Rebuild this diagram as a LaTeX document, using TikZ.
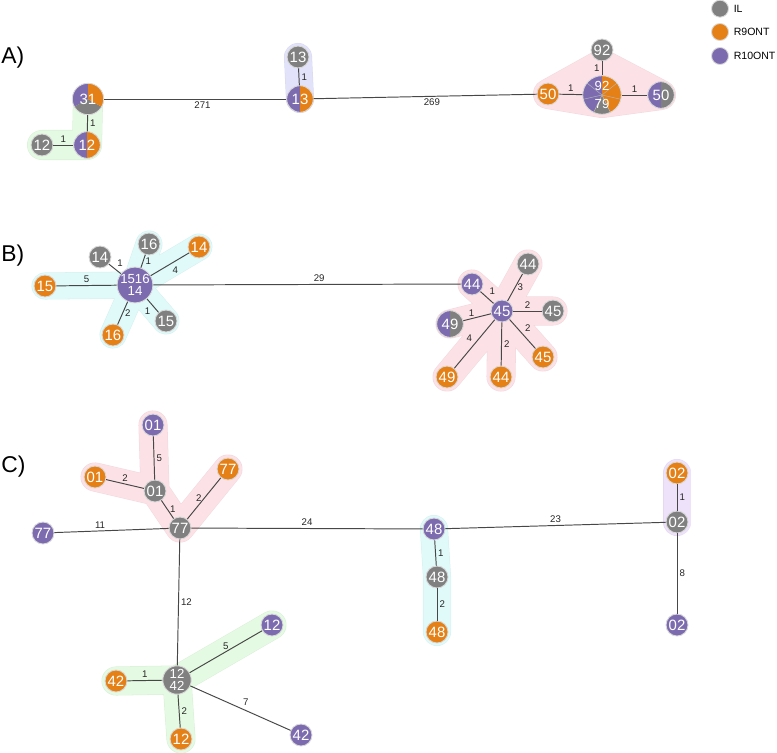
\documentclass[tikz,border=0pt]{standalone}
\usepackage{fontspec}
\setmainfont{Liberation Sans}
\usetikzlibrary{positioning,backgrounds}

\definecolor{ilgray}{RGB}{128,128,128}
\definecolor{rnineorange}{RGB}{228,128,22}
\definecolor{rtenpurple}{RGB}{124,108,175}
\definecolor{hullpink}{RGB}{252,226,230}
\definecolor{hullgreen}{RGB}{228,250,226}
\definecolor{hullblue}{RGB}{226,226,250}
\definecolor{hullcyan}{RGB}{224,250,250}
\definecolor{hulllilac}{RGB}{238,226,250}

% one share of a mixed node
\newcommand{\slice}[5]{\fill[#5] (#1) -- ++(#3:#2) arc[start angle=#3, end angle=#4, radius=#2] -- cycle;}

\begin{document}
\begin{tikzpicture}[
        x=0.02cm, y=0.02cm,
        isolate/.style={circle, draw=white!85!black, line width=0.5pt, inner sep=0pt,
            minimum size=0.44cm, text=white, font=\fontsize{8.5}{8}\selectfont},
        il/.style={isolate, fill=ilgray},
        rnine/.style={isolate, fill=rnineorange},
        rten/.style={isolate, fill=rtenpurple},
        pair/.style={minimum size=0.532cm},
        stack/.style={align=center, font=\fontsize{7.5}{6.5}\selectfont},
        link/.style={draw=black!72, line width=0.55pt},
        dist/.style={font=\fontsize{5.5}{6}\selectfont, text=black!85, inner sep=1.2pt},
        hull/.style={draw=#1!96!black, double=#1, line width=0.3pt, line cap=round, line join=round},
        panel/.style={anchor=west, inner sep=0pt, font=\fontsize{13}{14}\selectfont},
        key/.style={isolate, minimum size=0.34cm},
        keytext/.style={inner sep=0pt, font=\fontsize{6}{7}\selectfont},
        ]
        \useasboundingbox (0,0) rectangle (777,-753);

        % Legend
        \node[key, fill=ilgray] (keyil) at (720,-8.7) {};
        \node[key, fill=rnineorange] (keyrnine) at (720,-32) {};
        \node[key, fill=rtenpurple] (keyrten) at (720,-56) {};
        \node[keytext, right=0.09cm of keyil] {IL};
        \node[keytext, right=0.09cm of keyrnine] {R9ONT};
        \node[keytext, right=0.09cm of keyrten] {R10ONT};

        % Panel labels
        \node[panel] (lbla) at (1,-58) {A)};
        \node[panel] (lblb) at (1,-256) {B)};
        \node[panel] (lblc) at (1,-467) {C)};

        % A) mixed nodes
        \coordinate (p31) at (88,-99);
        \coordinate (p12) at (87,-145);
        \coordinate (p13) at (300,-99);
        \coordinate (p9279) at (602,-95);
        \coordinate (p50) at (661,-95);
        \slice{p31}{15.7}{90}{210}{rtenpurple}
        \slice{p31}{15.7}{210}{330}{ilgray}
        \slice{p31}{15.7}{-30}{90}{rnineorange}
        \slice{p12}{13.3}{90}{270}{rtenpurple}
        \slice{p12}{13.3}{-90}{90}{rnineorange}
        \slice{p13}{13.3}{90}{270}{rtenpurple}
        \slice{p13}{13.3}{-90}{90}{rnineorange}
        \slice{p9279}{19.3}{90}{244.29}{rtenpurple}
        \slice{p9279}{19.3}{244.29}{295.71}{ilgray}
        \slice{p9279}{19.3}{-64.29}{90}{rnineorange}
        \foreach \a in {38.57,-12.86,-64.29,-115.71,-167.14,141.43}
            \draw[black!28, line width=0.25pt] (p9279) -- ++(\a:19.3);
        \slice{p50}{13.3}{90}{270}{rtenpurple}
        \slice{p50}{13.3}{-90}{90}{ilgray}

        % A) nodes
        \node[isolate, minimum size=0.628cm] (a31) at (p31) {31};
        \node[isolate, pair] (a12m) at (p12) {12};
        \node[il] (a12) at (42,-145) {12};
        \node[il] (a13) at (298,-57) {13};
        \node[isolate, pair] (a13m) at (p13) {13};
        \node[rnine] (a50) at (548,-94) {50};
        \node[il] (a92) at (602,-50) {92};
        \node[isolate, stack, minimum size=0.772cm, font=\fontsize{7.5}{10.2}\selectfont] (a9279) at (p9279) {92\\79};
        \node[isolate, pair] (a50m) at (p50) {50};

        % A) links
        \draw[link] (a31) -- node[dist, right] {1} (a12m);
        \draw[link] (a12) -- node[dist, above] {1} (a12m);
        \draw[link] (a31) -- node[dist, below, pos=0.54] {271} (a13m);
        \draw[link] (a13) -- node[dist, right] {1} (a13m);
        \draw[link] (a13m) -- node[dist, below, pos=0.53] {269} (a50);
        \draw[link] (a50) -- node[dist, above] {1} (a9279);
        \draw[link] (a92) -- node[dist, left] {1} (a9279);
        \draw[link] (a9279) -- node[dist, above] {1} (a50m);

        % B) nodes
        \coordinate (p49) at (450,-324);
        \slice{p49}{13.3}{90}{270}{rtenpurple}
        \slice{p49}{13.3}{-90}{90}{ilgray}
        \node[rten, stack, minimum size=0.612cm] (b1516) at (135,-285) {1516\\14};
        \node[il] (b14il) at (100,-257) {14};
        \node[il] (b16il) at (149,-244) {16};
        \node[rnine] (b14r9) at (199,-247) {14};
        \node[rnine] (b15r9) at (45,-286) {15};
        \node[rnine] (b16r9) at (113,-335) {16};
        \node[il] (b15il) at (166,-321) {15};
        \node[rten] (b44r10) at (472,-284) {44};
        \node[il] (b44il) at (528,-264) {44};
        \node[rten] (b45r10) at (502,-311) {45};
        \node[il] (b45il) at (553,-311) {45};
        \node[isolate, pair] (b49m) at (p49) {49};
        \node[rnine] (b49r9) at (447,-377) {49};
        \node[rnine] (b44r9) at (501,-377) {44};
        \node[rnine] (b45r9) at (543,-357) {45};

        % B) links
        \draw[link] (b1516) -- node[dist, above, pos=0.54] {29} (b44r10);
        \draw[link] (b1516) -- node[dist, above right] {1} (b14il);
        \draw[link] (b1516) -- node[dist, right] {1} (b16il);
        \draw[link] (b1516) -- node[dist, below right] {4} (b14r9);
        \draw[link] (b1516) -- node[dist, above] {5} (b15r9);
        \draw[link] (b1516) -- node[dist, right] {2} (b16r9);
        \draw[link] (b1516) -- node[dist, below left] {1} (b15il);
        \draw[link] (b44r10) -- node[dist, above right] {1} (b45r10);
        \draw[link] (b44il) -- node[dist, right] {3} (b45r10);
        \draw[link] (b45r10) -- node[dist, above] {2} (b45il);
        \draw[link] (b49m) -- node[dist, above, pos=0.3] {1} (b45r10);
        \draw[link] (b49r9) -- node[dist, above left] {4} (b45r10);
        \draw[link] (b44r9) -- node[dist, right] {2} (b45r10);
        \draw[link] (b45r10) -- node[dist, above right] {2} (b45r9);

        % C) nodes
        \node[rten] (c01r10) at (153,-425) {01};
        \node[rnine] (c01r9) at (95,-477) {01};
        \node[il] (c01il) at (155,-491) {01};
        \node[rnine] (c77r9) at (228,-469) {77};
        \node[il] (c77il) at (180,-528) {77};
        \node[rten] (c77r10) at (43,-533) {77};
        \node[rten] (c48r10) at (434,-529) {48};
        \node[il] (c48il) at (437,-577) {48};
        \node[rnine] (c48r9) at (437,-632) {48};
        \node[il] (c02il) at (677,-522) {02};
        \node[rnine] (c02r9) at (677,-473) {02};
        \node[rten] (c02r10) at (677,-625) {02};
        \node[il, stack, minimum size=0.568cm] (c1242) at (177,-680) {12\\42};
        \node[rnine] (c42r9) at (116,-681) {42};
        \node[rnine] (c12r9) at (181,-739) {12};
        \node[rten] (c12r10) at (272,-625) {12};
        \node[rten] (c42r10) at (301,-735) {42};

        % C) links
        \draw[link] (c01r10) -- node[dist, right] {5} (c01il);
        \draw[link] (c01r9) -- node[dist, above] {2} (c01il);
        \draw[link] (c01il) -- node[dist, right] {1} (c77il);
        \draw[link] (c77r9) -- node[dist, left] {2} (c77il);
        \draw[link] (c77r10) -- node[dist, above, pos=0.4] {11} (c77il);
        \draw[link] (c77il) -- node[dist, above] {24} (c48r10);
        \draw[link] (c48r10) -- node[dist, right] {1} (c48il);
        \draw[link] (c48il) -- node[dist, right] {2} (c48r9);
        \draw[link] (c48r10) -- node[dist, above] {23} (c02il);
        \draw[link] (c02r9) -- node[dist, right] {1} (c02il);
        \draw[link] (c02il) -- node[dist, right] {8} (c02r10);
        \draw[link] (c77il) -- node[dist, right] {12} (c1242);
        \draw[link] (c42r9) -- node[dist, above] {1} (c1242);
        \draw[link] (c1242) -- node[dist, right] {2} (c12r9);
        \draw[link] (c1242) -- node[dist, above] {5} (c12r10);
        \draw[link] (c1242) -- node[dist, above right] {7} (c42r10);

        % Hulls
        \begin{scope}[on background layer]
            \draw[hull=hullgreen, double distance=0.58cm] (a12.center) -- (a12m.center) -- (a31.center);
            \draw[hull=hullblue, double distance=0.54cm] (a13.center) -- (a13m.center);
            \filldraw[hull=hullpink, fill=hullpink, double distance=0.58cm]
                (a50.center) -- (602,-64) -- (a50m.center) -- (602,-103) -- cycle;
            \draw[hull=hullcyan, double distance=0.52cm]
                (b1516.center) -- (b15r9.center) (b1516.center) -- (b14r9.center)
                (b1516.center) -- (b16r9.center) (b1516.center) -- (b15il.center)
                (b1516.center) -- (b16il.center);
            \draw[hull=hullpink, double distance=0.56cm]
                (b45r10.center) -- (b44r10.center) (b45r10.center) -- (b44il.center)
                (b45r10.center) -- (b45il.center) (b45r10.center) -- (b49m.center)
                (b45r10.center) -- (b49r9.center) (b45r10.center) -- (b44r9.center)
                (b45r10.center) -- (b45r9.center);
            \draw[hull=hullpink, double distance=0.56cm]
                (c01r10.center) -- (c01il.center) -- (c77il.center) -- (c77r9.center)
                (c01r9.center) -- (c01il.center);
            \draw[hull=hullcyan, double distance=0.54cm] (c48r10.center) -- (c48il.center) -- (c48r9.center);
            \draw[hull=hulllilac, double distance=0.54cm] (c02r9.center) -- (c02il.center);
            \draw[hull=hullgreen, double distance=0.56cm]
                (c42r9.center) -- (c1242.center) -- (c12r10.center)
                (c1242.center) -- (c12r9.center);
        \end{scope}

    \end{tikzpicture}
\end{document}
